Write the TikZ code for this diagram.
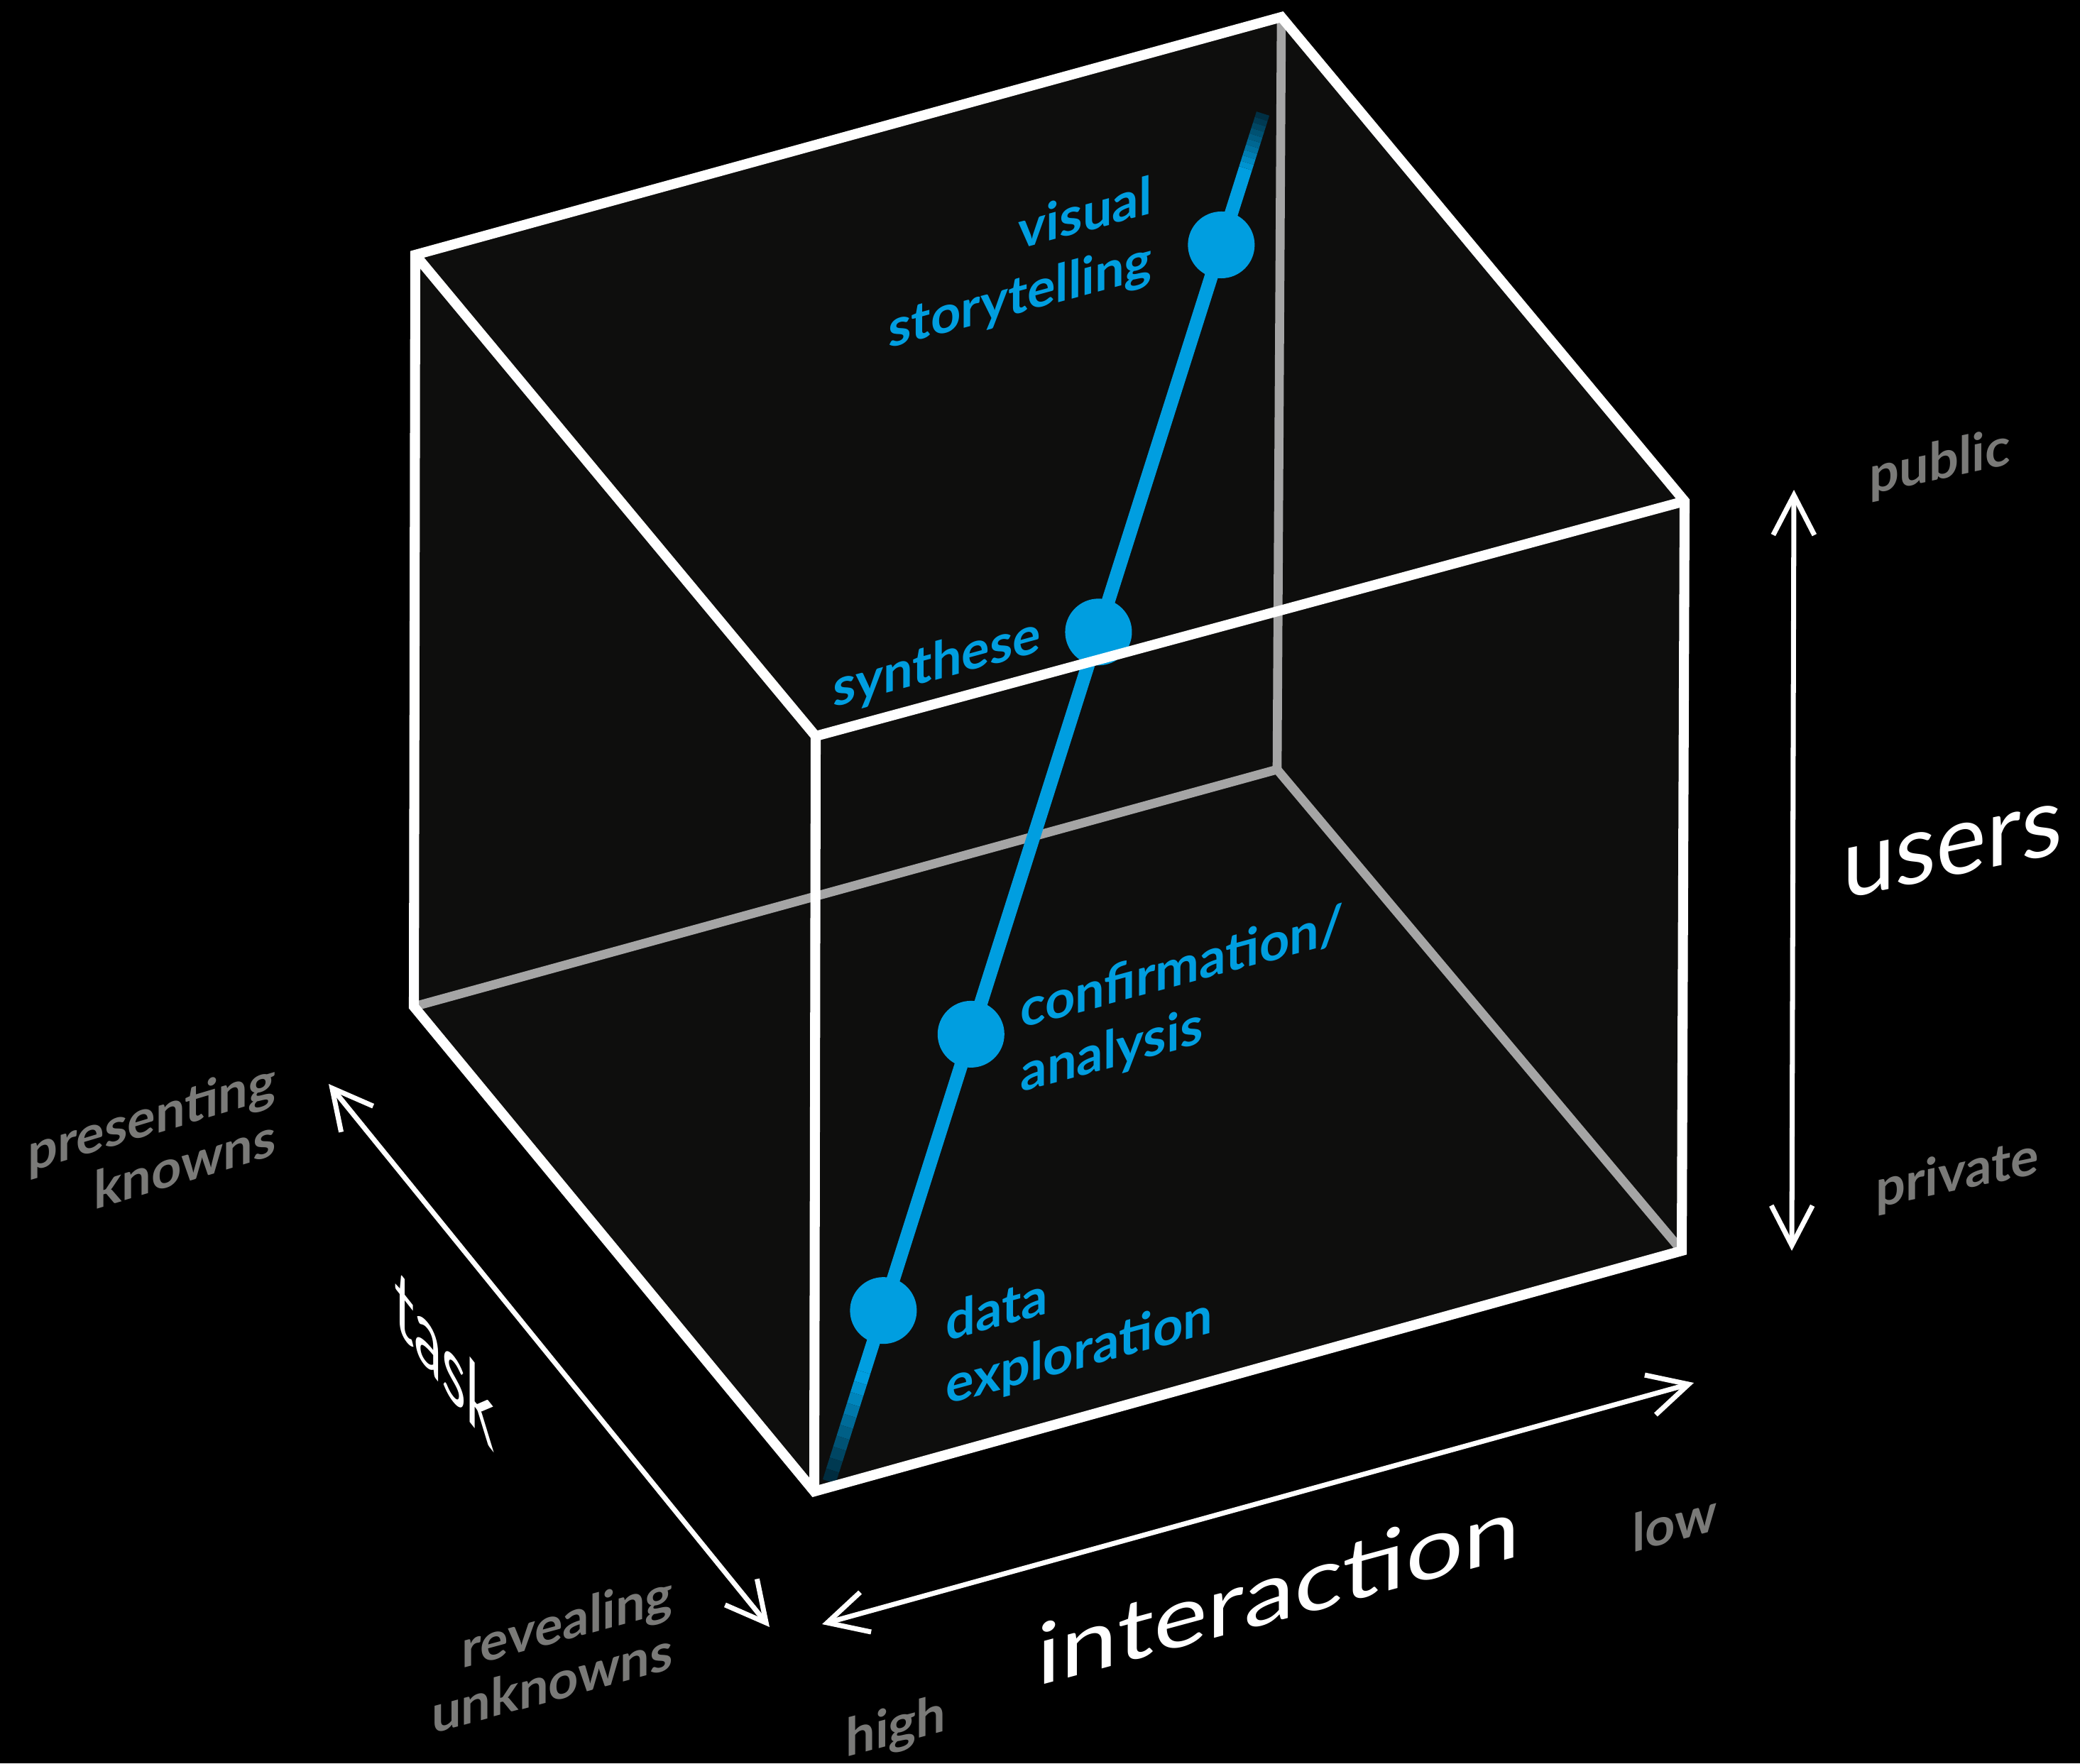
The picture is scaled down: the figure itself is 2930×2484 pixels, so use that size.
\documentclass[tikz,border=0pt]{standalone}
\usepackage{fontspec}
\setmainfont{Lato}
\usetikzlibrary{calc,arrows.meta}
\definecolor{ablue}{RGB}{0,158,224}
\definecolor{face}{RGB}{14,14,13}
\definecolor{hidden}{RGB}{165,165,165}
\definecolor{dimtext}{RGB}{122,122,120}
\def\bluefont{\bfseries\fontsize{21}{25.5}\selectfont}
\def\dimfont{\bfseries\fontsize{21}{23}\selectfont}
\def\axisfont{\fontsize{34}{40}\selectfont}
\def\barb{Straight Barb[length=5.6mm, width=5.8mm]}

\begin{document}
\begin{tikzpicture}[x=0.01cm, y=-0.01cm,
    rim/.style={white, line width=4pt},
    hiddenrim/.style={hidden, line width=3.6pt},
    trail/.style={line width=5.4pt, line cap=butt},
    milestone/.style={circle, fill=ablue, minimum size=0.94cm, inner sep=0pt},
    stage/.style={text=ablue, font=\bluefont, inner sep=0pt},
    pole/.style={text=dimtext, font=\dimfont, inner sep=0pt},
    flat/.style={yslant=0.27},
    side/.style={yslant=0.21},
    axisline/.style={white, line width=2pt, {\barb}-{\barb}},
    axislabel/.style={text=white, font=\axisfont, inner sep=0pt}]
    \fill[black] (0,0) rectangle (2930,2484);
    \useasboundingbox (0,0) rectangle (2930,2484);
    % cube corners
    \coordinate (tbl) at (585,359);
    \coordinate (tbr) at (1805,24);
    \coordinate (tfr) at (2373,706);
    \coordinate (tfl) at (1149,1037);
    \coordinate (bbl) at (583,1418);
    \coordinate (bbr) at (1799,1084);
    \coordinate (bfr) at (2369,1762);
    \coordinate (bfl) at (1147,2101);
    \fill[face] (tbl) -- (tbr) -- (tfr) -- (bfr) -- (bfl) -- (bbl) -- cycle;
    \draw[hiddenrim] (bbl) -- (bbr) -- (bfr);
    \draw[hiddenrim] (bbr) -- (tbr);
    % the path through the cube
    \coordinate (lt) at (1779,160);
    \coordinate (lb) at (1168,2087);
    \draw[trail, ablue] ($(lt)!0.04!(lb)$) -- ($(lt)!0.92!(lb)$);
    \foreach \i in {0,...,9}{
        \pgfmathsetmacro\ta{0.004*\i}
        \pgfmathsetmacro\tb{0.004*(\i+1)}
        \pgfmathsetmacro\sh{30+7*\i}
        \draw[trail, draw=ablue!\sh!black] ($(lt)!\ta!(lb)$) -- ($(lt)!\tb!(lb)$);
        \pgfmathsetmacro\ta{0.92+0.008*\i}
        \pgfmathsetmacro\tb{0.92+0.008*(\i+1)}
        \pgfmathsetmacro\sh{100-8*\i}
        \draw[trail, draw=ablue!\sh!black] ($(lt)!\ta!(lb)$) -- ($(lt)!\tb!(lb)$);
    }
    \node[milestone] (story) at ($(lt)!0.096!(lb)$) {};
    \node[milestone] (synth) at ($(lt)!0.379!(lb)$) {};
    \node[milestone] (conf) at ($(lt)!0.673!(lb)$) {};
    \node[milestone] (explore) at ($(lt)!0.875!(lb)$) {};
    \draw[rim] (tbl) -- (tbr) -- (tfr) -- (bfr) -- (bfl) -- (bbl) -- cycle;
    \draw[rim] (tbl) -- (tfl) -- (tfr);
    \draw[rim] (tfl) -- (bfl);
    \node[stage, flat, align=right] (lstory) at (1437,375) {visual\\storytelling};
    \node[stage, flat] (lsynth) at (1320,936) {synthese};
    \node[stage, flat, align=left] (lconf) at (1665,1411) {confirmation/\\analysis};
    \node[stage, flat, align=left] (lexplore) at (1520,1862) {data\\exploration};
    % axes
    \coordinate (uhi) at (2527,690);
    \coordinate (ulo) at (2524,1762);
    \coordinate (ihi) at (1158,2288);
    \coordinate (ilo) at (2386,1948);
    \coordinate (tknown) at (463,1527);
    \coordinate (tunknown) at (1084,2292);
    \draw[axisline] (ulo) -- (uhi);
    \draw[axisline] (ihi) -- (ilo);
    \draw[axisline] (tknown) -- (tunknown);
    \node[axislabel, side, xscale=1.12, yscale=1.15] (lusers) at (2750,1199) {users};
    \node[axislabel, flat, xscale=1.2] (linter) at (1801,2240) {interaction};
    \node[axislabel, yslant=-1.27, xscale=0.66, yscale=1.05] (ltask) at (626,1912) {task};
    \node[pole, side] (lpublic) at (2733,654) {public};
    \node[pole, side] (lprivate) at (2757,1656) {private};
    \node[pole, flat] (lhigh) at (1262,2436) {high};
    \node[pole, flat] (llow) at (2359,2144) {low};
    \node[pole, yslant=0.3, align=right] (lknown) at (214,1612) {presenting\\knowns};
    \node[pole, flat, align=right] (lunknown) at (778,2329) {revealing\\unknowns};
\end{tikzpicture}
\end{document}
